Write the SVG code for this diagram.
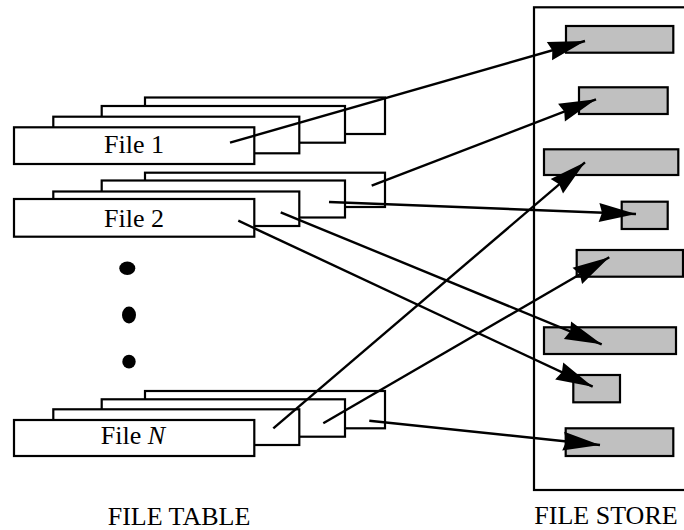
<svg xmlns="http://www.w3.org/2000/svg" width="684" height="530" viewBox="0 0 684 530">
<style>
.card{fill:#fff;stroke:#000;stroke-width:2.2}
.store{fill:none;stroke:#000;stroke-width:2.2}
.blk{fill:#c0c0c0;stroke:#000;stroke-width:2.2}
.lbl{font-family:"Liberation Serif","Times New Roman",serif;font-size:26px;fill:#000;text-anchor:middle}
.arr{fill:none;stroke:#000;stroke-width:2.4;marker-end:url(#head)}
</style>
<defs>
<marker id="head" markerUnits="userSpaceOnUse" markerWidth="40" markerHeight="20" refX="37" refY="9.5" orient="auto" overflow="visible">
<path d="M0,0 L37,9.5 L0,19 L3,9.5 z" fill="#000"/>
</marker>
</defs>
<rect width="684" height="530" fill="#fff"/>
<g id="file-store">
<rect class="store" x="534" y="7.3" width="160" height="482.7"/>
<text class="lbl" x="606" y="523.5">FILE STORE</text>
</g>
<g id="blocks">
<rect id="block1" class="blk" x="566" y="26" width="107.3" height="26.7"/>
<rect id="block2" class="blk" x="579" y="87.3" width="88.7" height="26.7"/>
<rect id="block3" class="blk" x="544" y="149.3" width="134.3" height="25.7"/>
<rect id="block4" class="blk" x="621.7" y="201.7" width="46" height="27.3"/>
<rect id="block5" class="blk" x="576.7" y="250" width="106.3" height="26.7"/>
<rect id="block6" class="blk" x="544" y="327.3" width="132" height="26.7"/>
<rect id="block7" class="blk" x="573.3" y="375" width="46.7" height="27.3"/>
<rect id="block8" class="blk" x="565.7" y="428.3" width="107.6" height="27.7"/>
</g>
<g id="file1">
<rect class="card" x="145" y="97.5" width="240" height="36.5"/>
<rect class="card" x="101.7" y="106" width="243.3" height="36.7"/>
<rect class="card" x="53.3" y="116.7" width="246" height="36.6"/>
<rect class="card" x="14" y="127.3" width="240.3" height="36.7"/>
<text class="lbl" x="134" y="153.3">File 1</text>
</g>
<g id="file2">
<rect class="card" x="145" y="172.7" width="240" height="34.3"/>
<rect class="card" x="101.7" y="180.5" width="243.3" height="37"/>
<rect class="card" x="53.3" y="191.5" width="246" height="34.5"/>
<rect class="card" x="14" y="199" width="240.3" height="37.7"/>
<text class="lbl" x="134" y="226.7">File 2</text>
</g>
<g id="ellipsis">
<ellipse cx="127.3" cy="268.3" rx="8" ry="6.7"/>
<ellipse cx="129" cy="315" rx="7" ry="8.5"/>
<ellipse cx="129" cy="361.7" rx="6.7" ry="6.9"/>
</g>
<g id="fileN">
<rect class="card" x="145" y="391" width="240" height="37.3"/>
<rect class="card" x="101.7" y="399.3" width="243.3" height="37.4"/>
<rect class="card" x="53.3" y="409.3" width="246" height="35.7"/>
<rect class="card" x="14" y="420" width="240.3" height="36"/>
<text class="lbl" x="133" y="443.5">File <tspan font-style="italic">N</tspan></text>
</g>
<g id="file-table-label">
<text class="lbl" x="179" y="525">FILE TABLE</text>
</g>
<g id="connectors">
<path class="arr" d="M230,142.7 L585,41"/>
<path class="arr" d="M371.7,185.7 L596,99.3"/>
<path class="arr" d="M329,202 L636,214"/>
<path class="arr" d="M280.7,212.3 L601.7,344.3"/>
<path class="arr" d="M238.3,220.7 L592.7,386.7"/>
<path class="arr" d="M273.3,428.3 L585,162.3"/>
<path class="arr" d="M323.3,423.3 L609.3,257.3"/>
<path class="arr" d="M369.3,420.7 L600,445"/>
</g>
</svg>
